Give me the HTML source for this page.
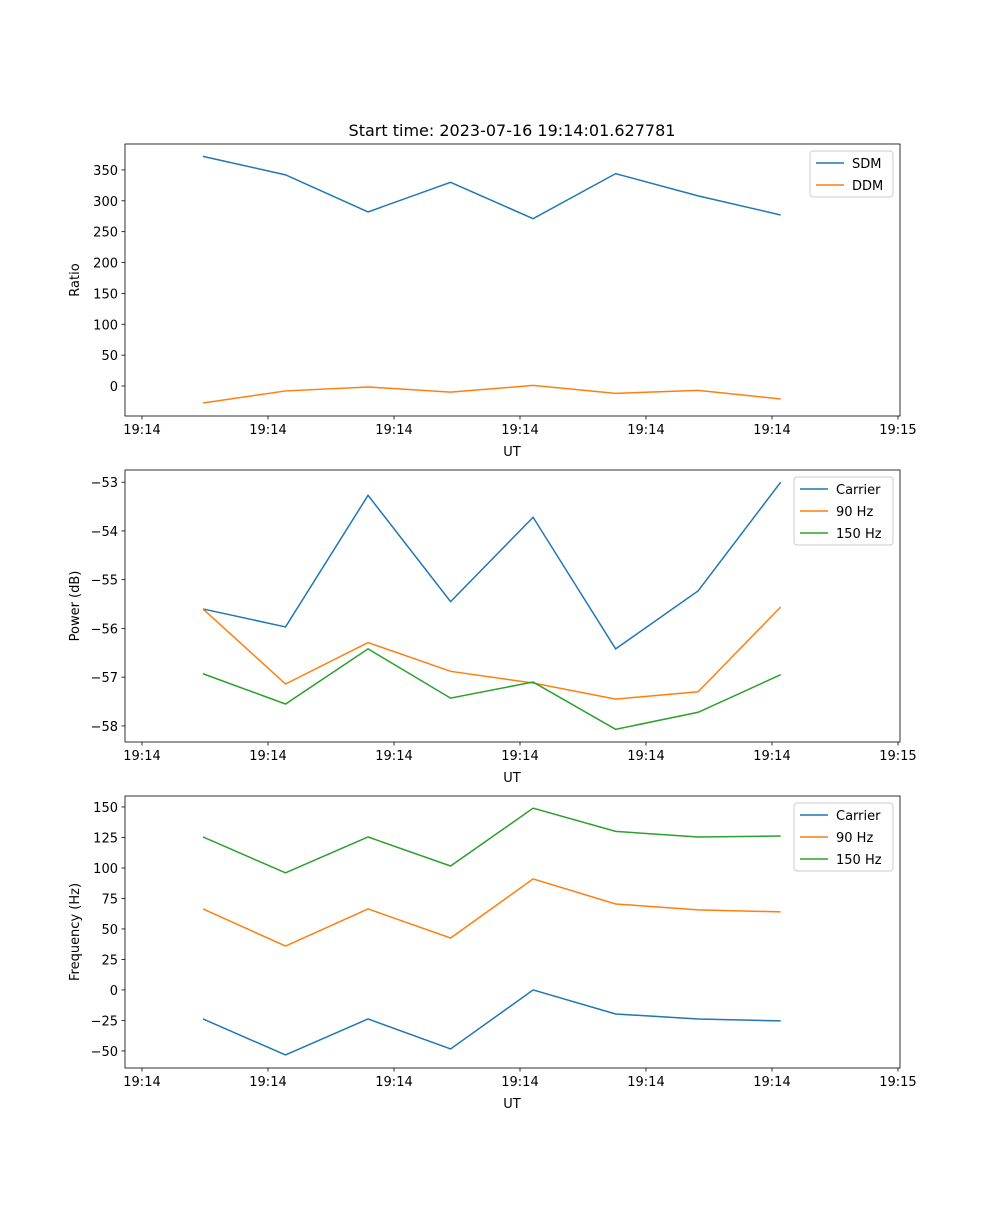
<!DOCTYPE html>
<html><head><meta charset="utf-8"><style>
body{margin:0;background:#fff}
svg{font-family:"DejaVu Sans","Liberation Sans",sans-serif}
</style></head><body>
<svg id="fig" width="1000" height="1200" xmlns="http://www.w3.org/2000/svg">
<rect width="1000" height="1200" fill="#fff"/>
<text x="512" y="136" font-size="16" text-anchor="middle">Start time: 2023-07-16 19:14:01.627781</text>
</svg>
<script>
const times=[0.484,1.139,1.794,2.449,3.104,3.759,4.414,5.069];
const xTickVals=[0,1,2,3,4,5,6];
const xTickLabels=["19:14","19:14","19:14","19:14","19:14","19:14","19:15"];
const sdm=[372,342,282,330,271,344,308,277];
const ddm=[-27.5,-8,-1.6,-10,1,-12,-7,-21];
const pCarrier=[-55.6,-55.97,-53.27,-55.45,-53.72,-56.42,-55.23,-53.0];
const p90=[-55.6,-57.14,-56.29,-56.88,-57.12,-57.45,-57.3,-55.56];
const p150=[-56.93,-57.55,-56.42,-57.43,-57.1,-58.07,-57.72,-56.95];
const fCarrier=[-23.8,-53.3,-23.8,-48.4,0,-19.7,-23.8,-25.4];
const f90=[66.4,36,66.4,42.6,91,70.5,65.6,64];
const f150=[125.4,96,125.4,101.6,149,130,125.4,126.2];
const ticks1=[0,50,100,150,200,250,300,350];
const ticks2=[-58,-57,-56,-55,-54,-53];
const ticks3=[-50,-25,0,25,50,75,100,125,150];
const NS="http://www.w3.org/2000/svg";
const svg=document.getElementById('fig');
function mk(t,a,p){const e=document.createElementNS(NS,t);for(const k in a)e.setAttribute(k,a[k]);(p||svg).appendChild(e);return e;}
const L=125,R=900,W=R-L;
const xMin=-0.135,xMax=6.016;
function xs(v){return L+(v-xMin)/(xMax-xMin)*W;}
const colors=["#1f77b4","#ff7f0e","#2ca02c"];
function fmt(v){return v<0?"\u2212"+Math.abs(v):String(v);}
function panel(id,top,yMin,yMax,yTicks,series,names,ylabel,legW,legX){
  const bot=top+272;
  const g=mk('g',{});
  
  
  const ys=v=>bot-(v-yMin)/(yMax-yMin)*272;
  series.forEach((s,i)=>{
    const pl=mk('polyline',{points:s.map((v,j)=>xs(times[j])+","+ys(v)).join(" "),fill:"none",stroke:colors[i],"stroke-width":1.5},g);
    
    
  });
  const fr=mk('rect',{x:L,y:top,width:W,height:272,fill:"none",stroke:"#000","stroke-width":0.8},g);
  
  
  xTickVals.forEach((v,i)=>{const x=xs(v);
    mk('line',{x1:x,x2:x,y1:bot,y2:bot+3.5,stroke:"#000","stroke-width":0.8},g);
    const t=mk('text',{x:x,y:bot+18,"font-size":13,"text-anchor":"middle"},g);t.textContent=xTickLabels[i];
    
    });
  yTicks.forEach(v=>{const y=ys(v);
    mk('line',{x1:L,x2:L-3.5,y1:y,y2:y,stroke:"#000","stroke-width":0.8},g);
    const t=mk('text',{x:L-7,y:y+5,"font-size":13,"text-anchor":"end"},g);t.textContent=fmt(v);
    
    });
  const xl=mk('text',{x:512,y:bot+40,"font-size":13,"text-anchor":"middle"},g);xl.textContent="UT";
  
  
  const yl=mk('text',{x:0,y:0,"font-size":13,"text-anchor":"middle",transform:`translate(79,${top+136}) rotate(-90)`},g);yl.textContent=ylabel;
  
  
  const lg=mk('g',{},g);
  
  
  mk('rect',{x:legX,y:top+7,width:legW,height:names.length*22+2,rx:3,fill:"#fff","fill-opacity":0.8,stroke:"#ccc"},lg);
  names.forEach((n,i)=>{const y=top+19+i*22;
    mk('line',{x1:legX+6,x2:legX+34,y1:y,y2:y,stroke:colors[i],"stroke-width":1.5},lg);
    const t=mk('text',{x:legX+42,y:y+5,"font-size":13},lg);t.textContent=n;
    
    });
}
panel('ratio-panel',144,-48.6,392,ticks1,[sdm,ddm],["SDM","DDM"],"Ratio",83,810);
panel('power-panel',470,-58.33,-52.75,ticks2,[pCarrier,p90,p150],["Carrier","90 Hz","150 Hz"],"Power (dB)",99,794);
panel('frequency-panel',796,-64,159,ticks3,[fCarrier,f90,f150],["Carrier","90 Hz","150 Hz"],"Frequency (Hz)",99,794);
</script>
</body></html>
